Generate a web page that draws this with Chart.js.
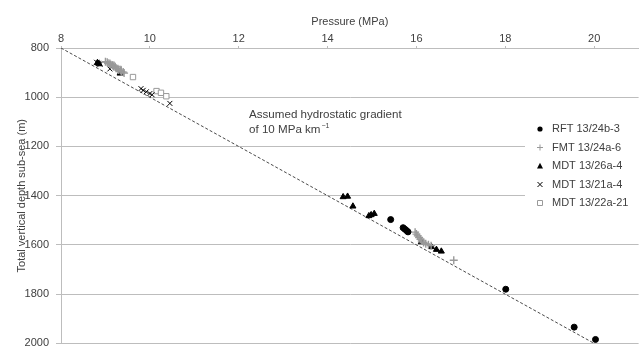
<!DOCTYPE html>
<html>
<head>
<meta charset="utf-8">
<script src="https://cdn.jsdelivr.net/npm/chart.js@4"></script>
<style>
  html, body { margin: 0; padding: 0; background: #fff; overflow: hidden; }
  #wrap { width: 644px; height: 357px; }
</style>
</head>
<body>
<div id="wrap"><canvas id="myChart"></canvas></div>
<script>
// pressure (MPa) and depth (m) per series
const rftP = [15.42, 15.70, 15.74, 15.78, 15.81, 18.01, 19.55, 20.03];
const rftD = [1497, 1530, 1536, 1542, 1547, 1780, 1934, 1984];

const fmtP = [9.00, 9.04, 9.06, 9.10, 9.12, 9.16, 9.18, 9.22, 9.24, 9.28, 9.30, 9.34, 9.36, 9.40, 9.42,
              15.97, 16.00, 16.03, 16.06, 16.09, 16.12, 16.16, 16.21, 16.27, 16.33, 16.84];
const fmtD = [856, 858, 862, 863, 868, 870, 875, 877, 882, 884, 889, 891, 896, 898, 902,
              1548, 1556, 1563, 1570, 1577, 1584, 1590, 1595, 1599, 1603, 1662];

const mdt26P = [8.82, 8.86, 9.33, 14.35, 14.45, 14.57, 14.93, 14.98, 15.05,
                16.11, 16.34, 16.45, 16.56];
const mdt26D = [860, 865, 903, 1405, 1403, 1443, 1482, 1478, 1473,
                1588, 1608, 1619, 1626];

const mdt21P = [8.80, 8.84, 8.88, 9.10, 9.80, 9.85, 9.92, 10.00, 10.05, 10.45];
const mdt21D = [858, 862, 866, 885, 965, 972, 978, 985, 990, 1025];

const mdt22P = [9.15, 9.30, 9.62, 10.15, 10.25, 10.37];
const mdt22D = [868, 885, 918, 975, 982, 996];

// assumed hydrostatic gradient, 10 MPa per km
const hydroP = [8, 20];
const hydroD = [800, 2000];

const seriesNames = ['RFT 13/24b-3', 'FMT 13/24a-6', 'MDT 13/26a-4', 'MDT 13/21a-4', 'MDT 13/22a-21'];
const xTicks = [8, 10, 12, 14, 16, 18, 20];
const yTicks = [800, 1000, 1200, 1400, 1600, 1800, 2000];

const toPts = (xs, ys) => xs.map((x, i) => ({ x: x, y: ys[i] }));

const FONT = '"Liberation Sans", Arial, sans-serif';
const TXT = '#404040';
const GRID = '#bdbdbd';

const styles = [
    { pointStyle: 'circle', radius: 3, bg: '#000', border: '#000', bw: 1 },
    { pointStyle: 'cross', radius: 4, bg: '#999', border: '#999', bw: 1.4 },
    { pointStyle: 'triangle', radius: 3.5, bg: '#000', border: '#000', bw: 1 },
    { pointStyle: 'crossRot', radius: 3.5, bg: '#000', border: '#000', bw: 1 },
    { pointStyle: 'rect', radius: 3.8, bg: '#fff', border: '#9a9a9a', bw: 1 }
];

const seriesData = [
    toPts(rftP, rftD),
    toPts(fmtP, fmtD),
    toPts(mdt26P, mdt26D),
    toPts(mdt21P, mdt21D),
    toPts(mdt22P, mdt22D)
];

const datasets = seriesNames.map((name, i) => ({
    label: name,
    data: seriesData[i],
    pointStyle: styles[i].pointStyle,
    pointRadius: styles[i].radius,
    pointBackgroundColor: styles[i].bg,
    pointBorderColor: styles[i].border,
    pointBorderWidth: styles[i].bw,
    showLine: false
}));

datasets.push({
    label: 'hydrostatic',
    data: toPts(hydroP, hydroD),
    showLine: true,
    borderColor: '#4a4a4a',
    borderWidth: 1,
    borderDash: [3, 2],
    pointRadius: 0,
    order: 10
});

// legend sits inside the plot with a white box, like the original
const insideLegend = {
    id: 'insideLegend',
    afterDraw(chart) {
        const c = chart.ctx;
        c.save();
        c.fillStyle = '#fff';
        c.fillRect(525, 117, 119, 98);
        c.font = '11px ' + FONT;
        c.textBaseline = 'middle';
        seriesNames.forEach((name, i) => {
            const y = 129 + i * 18.5;
            const x = 540;
            const s = styles[i];
            c.fillStyle = s.bg;
            c.strokeStyle = s.border;
            c.lineWidth = 1;
            c.beginPath();
            if (s.pointStyle === 'circle') {
                c.arc(x, y, 2.6, 0, Math.PI * 2);
                c.fill();
            } else if (s.pointStyle === 'cross') {
                c.moveTo(x - 3, y); c.lineTo(x + 3, y);
                c.moveTo(x, y - 3); c.lineTo(x, y + 3);
                c.stroke();
            } else if (s.pointStyle === 'triangle') {
                c.moveTo(x, y - 3.2); c.lineTo(x + 3, y + 2.4); c.lineTo(x - 3, y + 2.4);
                c.closePath();
                c.fill();
            } else if (s.pointStyle === 'crossRot') {
                c.moveTo(x - 2.5, y - 2.5); c.lineTo(x + 2.5, y + 2.5);
                c.moveTo(x + 2.5, y - 2.5); c.lineTo(x - 2.5, y + 2.5);
                c.stroke();
            } else {
                c.rect(x - 2.5, y - 2.5, 5, 5);
                c.fill();
                c.stroke();
            }
            c.fillStyle = TXT;
            c.fillText(name, 552, y);
        });

        // annotation for the dashed line
        c.font = '11.6px ' + FONT;
        c.fillStyle = TXT;
        c.fillText('Assumed hydrostatic gradient', 249, 115);
        c.fillText('of 10 MPa km', 249, 130);
        const w = c.measureText('of 10 MPa km').width;
        c.font = '7px ' + FONT;
        c.fillText('\u22121', 249 + w + 1, 126);
        c.restore();
    }
};

const ctx = document.getElementById('myChart');

new Chart(ctx, {
    type: 'scatter',
    data: { datasets: datasets },
    options: {
        responsive: true,
        maintainAspectRatio: false,
        animation: false,
        layout: { padding: 0 },
        plugins: {
            legend: { display: false },
            tooltip: { enabled: false }
        },
        scales: {
            x: {
                type: 'linear',
                position: 'top',
                min: 8,
                max: 21,
                afterBuildTicks: (axis) => { axis.ticks = xTicks.map(v => ({ value: v })); },
                afterFit: (axis) => { axis.height = 48; },
                ticks: { color: TXT, font: { family: FONT, size: 11 }, padding: 0, maxRotation: 0 },
                grid: { drawOnChartArea: false, drawTicks: true, tickLength: 2, color: GRID },
                border: { color: GRID },
                title: {
                    display: true,
                    text: 'Pressure (MPa)',
                    color: TXT,
                    font: { family: FONT, size: 11 },
                    padding: { top: 15, bottom: 0 }
                }
            },
            y: {
                type: 'linear',
                reverse: true,
                min: 800,
                max: 2000,
                afterBuildTicks: (axis) => { axis.ticks = yTicks.map(v => ({ value: v })); },
                afterFit: (axis) => { axis.width = 61; },
                ticks: {
                    color: TXT,
                    font: { family: FONT, size: 11 },
                    padding: 7,
                    callback: (v) => String(v)
                },
                grid: { color: GRID, tickLength: 5 },
                border: { color: GRID },
                title: {
                    display: true,
                    text: 'Total vertical depth sub-sea (m)',
                    color: TXT,
                    font: { family: FONT, size: 11 },
                    padding: { top: 15, bottom: 0 }
                }
            }
        }
    },
    plugins: [insideLegend]
});
</script>
</body>
</html>
